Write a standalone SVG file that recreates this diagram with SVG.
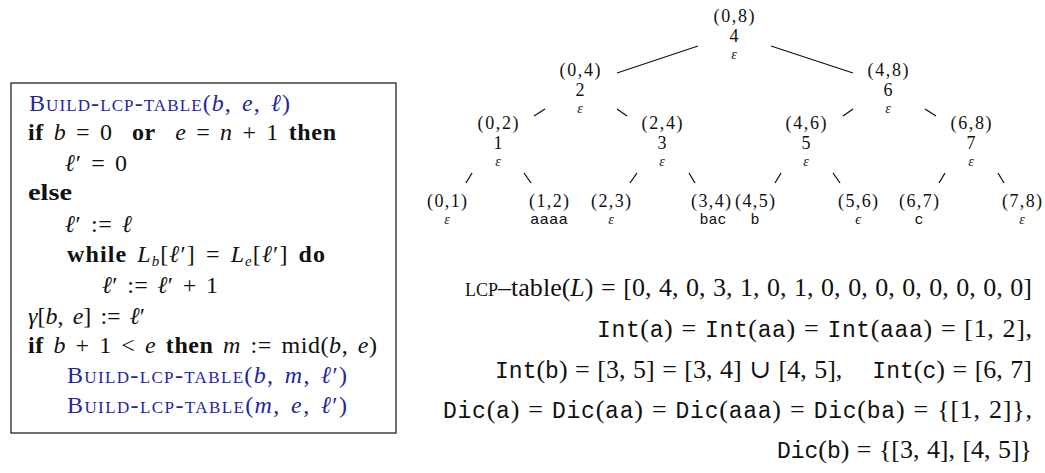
<svg xmlns="http://www.w3.org/2000/svg" width="1045" height="473" viewBox="0 0 1045 473">
<style>
text{font-family:"Liberation Serif","DejaVu Serif",serif;fill:#111}
.box{font-size:24px;word-spacing:3px}
.fm{font-family:"Liberation Serif","DejaVu Serif",serif;font-size:26px;word-spacing:1px}
.tr{font-size:18px;text-anchor:middle}
.eps{font-style:italic;font-size:14px}
.i{font-style:italic}
.b{font-weight:bold}
.sc{font-variant:small-caps}
.blue{fill:#25259f}
.tt{font-family:"Liberation Mono","DejaVu Sans Mono",monospace;font-size:23px}
.ttt{font-family:"Liberation Mono","DejaVu Sans Mono",monospace;font-size:15px}
.sub{font-size:15px}
.edge line{stroke:#111;stroke-width:1.3}
</style>
<rect width="1045" height="473" fill="#fff"/>

<g id="algorithm">
<rect x="11" y="83" width="385" height="350" fill="none" stroke="#222" stroke-width="1.3"/>
<text class="box blue" x="29" y="111" textLength="261" lengthAdjust="spacing"><tspan class="sc">Build-lcp-table</tspan>(<tspan class="i">b</tspan>, <tspan class="i">e</tspan>, <tspan class="i">ℓ</tspan>)</text>
<text class="box" x="28" y="140" textLength="308" lengthAdjust="spacing"><tspan class="b">if</tspan> <tspan class="i">b</tspan> = 0 &#160;<tspan class="b">or</tspan> &#160;<tspan class="i">e</tspan> = <tspan class="i">n</tspan> + 1 <tspan class="b">then</tspan></text>
<text class="box" x="65" y="171" textLength="62" lengthAdjust="spacing"><tspan class="i">ℓ</tspan>′ = 0</text>
<text class="box b" x="28" y="200" textLength="44" lengthAdjust="spacingAndGlyphs">else</text>
<text class="box" x="65" y="232" textLength="67" lengthAdjust="spacing"><tspan class="i">ℓ</tspan>′ := <tspan class="i">ℓ</tspan></text>
<text class="box" x="67" y="262" textLength="258" lengthAdjust="spacing"><tspan class="b">while</tspan> <tspan class="i">L</tspan><tspan class="i sub" dy="4">b</tspan><tspan dy="-4">[</tspan><tspan class="i">ℓ</tspan>′] = <tspan class="i">L</tspan><tspan class="i sub" dy="4">e</tspan><tspan dy="-4">[</tspan><tspan class="i">ℓ</tspan>′] <tspan class="b">do</tspan></text>
<text class="box" x="102" y="293" textLength="116" lengthAdjust="spacing"><tspan class="i">ℓ</tspan>′ := <tspan class="i">ℓ</tspan>′ + 1</text>
<text class="box" x="28" y="324" textLength="117" lengthAdjust="spacing"><tspan class="i">γ</tspan>[<tspan class="i">b</tspan>, <tspan class="i">e</tspan>] := <tspan class="i">ℓ</tspan>′</text>
<text class="box" x="28" y="353" textLength="349" lengthAdjust="spacing"><tspan class="b">if</tspan> <tspan class="i">b</tspan> + 1 &lt; <tspan class="i">e</tspan> <tspan class="b">then</tspan> <tspan class="i">m</tspan> := mid(<tspan class="i">b</tspan>, <tspan class="i">e</tspan>)</text>
<text class="box blue" x="67" y="383" textLength="280" lengthAdjust="spacing"><tspan class="sc">Build-lcp-table</tspan>(<tspan class="i">b</tspan>, <tspan class="i">m</tspan>, <tspan class="i">ℓ</tspan>′)</text>
<text class="box blue" x="67" y="413" textLength="280" lengthAdjust="spacing"><tspan class="sc">Build-lcp-table</tspan>(<tspan class="i">m</tspan>, <tspan class="i">e</tspan>, <tspan class="i">ℓ</tspan>′)</text>
</g>

<g class="edge" id="connectors">
<line x1="617" y1="73" x2="698" y2="46"/>
<line x1="771" y1="46" x2="853" y2="73"/>
<line x1="545" y1="109" x2="534" y2="116"/>
<line x1="617" y1="109" x2="627" y2="116"/>
<line x1="853" y1="109" x2="843" y2="116"/>
<line x1="925" y1="109" x2="936" y2="116"/>
<line x1="472" y1="173" x2="466" y2="183"/>
<line x1="524" y1="173" x2="531" y2="183"/>
<line x1="637" y1="173" x2="630" y2="183"/>
<line x1="689" y1="173" x2="695" y2="183"/>
<line x1="781" y1="173" x2="775" y2="183"/>
<line x1="833" y1="173" x2="840" y2="183"/>
<line x1="945" y1="173" x2="939" y2="183"/>
<line x1="998" y1="173" x2="1004" y2="183"/>
</g>

<g id="node-0-8"><text class="tr" x="734" y="22" textLength="41" lengthAdjust="spacing">(0,8)</text><text class="tr" x="734" y="42">4</text><text class="tr eps" x="734" y="58.5">ε</text></g>
<g id="node-0-4"><text class="tr" x="580" y="76" textLength="41" lengthAdjust="spacing">(0,4)</text><text class="tr" x="580" y="96">2</text><text class="tr eps" x="580" y="112.5">ε</text></g>
<g id="node-4-8"><text class="tr" x="888" y="76" textLength="41" lengthAdjust="spacing">(4,8)</text><text class="tr" x="888" y="96">6</text><text class="tr eps" x="888" y="112.5">ε</text></g>
<g id="node-0-2"><text class="tr" x="498" y="129" textLength="41" lengthAdjust="spacing">(0,2)</text><text class="tr" x="498" y="149">1</text><text class="tr eps" x="498" y="165.5">ε</text></g>
<g id="node-2-4"><text class="tr" x="662" y="129" textLength="41" lengthAdjust="spacing">(2,4)</text><text class="tr" x="662" y="149">3</text><text class="tr eps" x="662" y="165.5">ε</text></g>
<g id="node-4-6"><text class="tr" x="806" y="129" textLength="41" lengthAdjust="spacing">(4,6)</text><text class="tr" x="806" y="149">5</text><text class="tr eps" x="806" y="165.5">ε</text></g>
<g id="node-6-8"><text class="tr" x="971" y="129" textLength="41" lengthAdjust="spacing">(6,8)</text><text class="tr" x="971" y="149">7</text><text class="tr eps" x="971" y="165.5">ε</text></g>
<g id="node-0-1"><text class="tr" x="447" y="207" textLength="40" lengthAdjust="spacing">(0,1)</text><text class="tr eps" x="447" y="223.5">ε</text></g>
<g id="node-1-2"><text class="tr" x="549" y="207" textLength="40" lengthAdjust="spacing">(1,2)</text><text class="tr ttt" x="549" y="223.5" textLength="38" lengthAdjust="spacingAndGlyphs">aaaa</text></g>
<g id="node-2-3"><text class="tr" x="611" y="207" textLength="40" lengthAdjust="spacing">(2,3)</text><text class="tr eps" x="611" y="223.5">ε</text></g>
<g id="node-3-4"><text class="tr" x="711" y="207" textLength="40" lengthAdjust="spacing">(3,4)</text><text class="tr ttt" x="713" y="223.5">bac</text></g>
<g id="node-4-5"><text class="tr" x="755" y="207" textLength="40" lengthAdjust="spacing">(4,5)</text><text class="tr ttt" x="755" y="223.5">b</text></g>
<g id="node-5-6"><text class="tr" x="858" y="207" textLength="40" lengthAdjust="spacing">(5,6)</text><text class="tr eps" x="858" y="223.5">ϵ</text></g>
<g id="node-6-7"><text class="tr" x="919" y="207" textLength="40" lengthAdjust="spacing">(6,7)</text><text class="tr ttt" x="919" y="223.5">c</text></g>
<g id="node-7-8"><text class="tr" x="1022" y="207" textLength="40" lengthAdjust="spacing">(7,8)</text><text class="tr eps" x="1022" y="223.5">ε</text></g>

<g id="formulas">
<text class="fm" x="465" y="296" textLength="567" lengthAdjust="spacing"><tspan class="sc">lcp</tspan>–table(<tspan class="i">L</tspan>) = [0, 4, 0, 3, 1, 0, 1, 0, 0, 0, 0, 0, 0, 0, 0]</text>
<text class="fm" x="597" y="337" textLength="435" lengthAdjust="spacing"><tspan class="tt">Int</tspan>(<tspan class="tt">a</tspan>) = <tspan class="tt">Int</tspan>(<tspan class="tt">aa</tspan>) = <tspan class="tt">Int</tspan>(<tspan class="tt">aaa</tspan>) = [1, 2],</text>
<text class="fm" x="495" y="378" textLength="537" lengthAdjust="spacing"><tspan class="tt">Int</tspan>(<tspan class="tt">b</tspan>) = [3, 5] = [3, 4] ∪ [4, 5], &#160;&#160;&#160;<tspan class="tt">Int</tspan>(<tspan class="tt">c</tspan>) = [6, 7]</text>
<text class="fm" x="443" y="418" textLength="589" lengthAdjust="spacing"><tspan class="tt">Dic</tspan>(<tspan class="tt">a</tspan>) = <tspan class="tt">Dic</tspan>(<tspan class="tt">aa</tspan>) = <tspan class="tt">Dic</tspan>(<tspan class="tt">aaa</tspan>) = <tspan class="tt">Dic</tspan>(<tspan class="tt">ba</tspan>) = {[1, 2]},</text>
<text class="fm" x="777" y="458" textLength="255" lengthAdjust="spacing"><tspan class="tt">Dic</tspan>(<tspan class="tt">b</tspan>) = {[3, 4], [4, 5]}</text>
</g>
</svg>
